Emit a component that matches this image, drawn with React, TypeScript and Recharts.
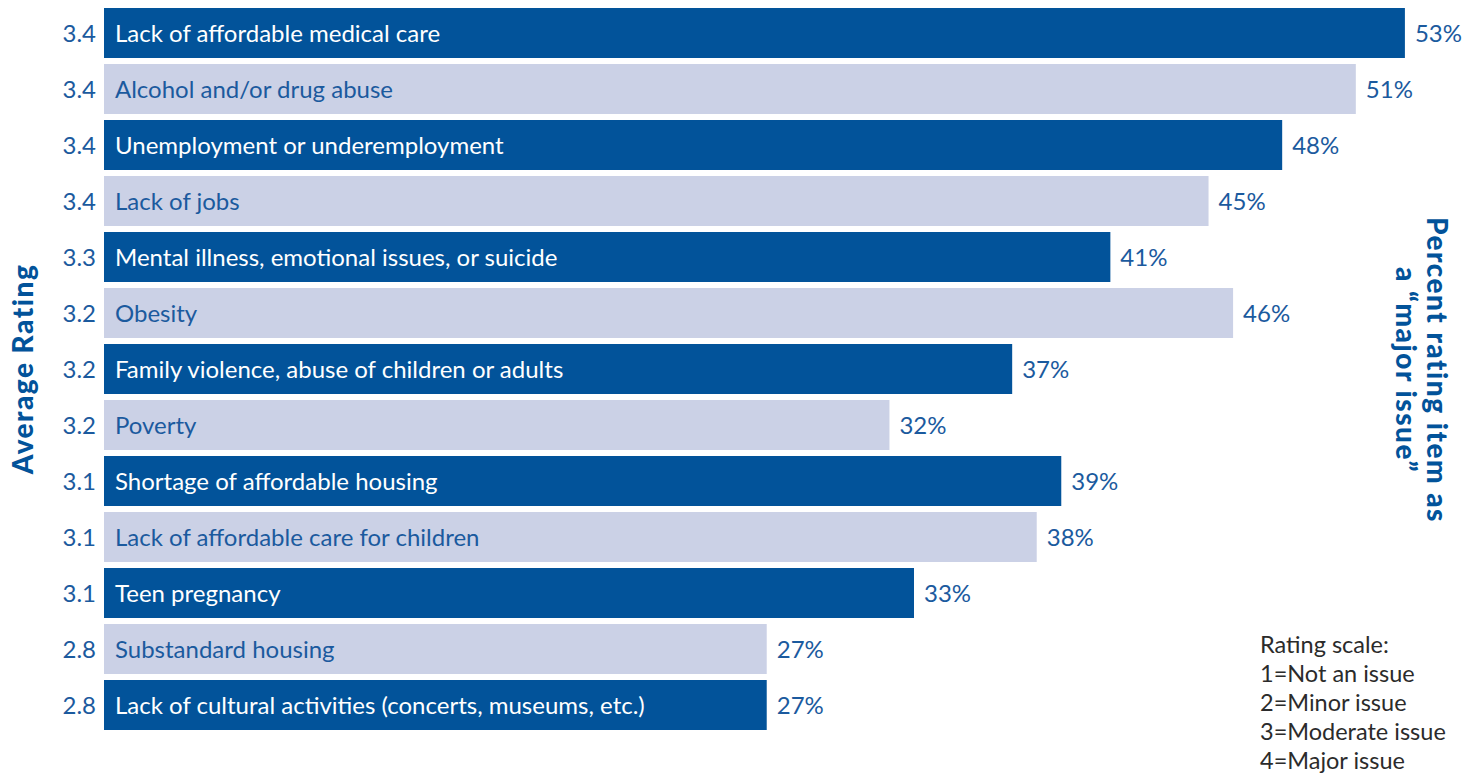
import { BarChart, Bar, XAxis, YAxis, Cell, LabelList } from "recharts";

const issues = [
  "Lack of affordable medical care",
  "Alcohol and/or drug abuse",
  "Unemployment or underemployment",
  "Lack of jobs",
  "Mental illness, emotional issues, or suicide",
  "Obesity",
  "Family violence, abuse of children or adults",
  "Poverty",
  "Shortage of affordable housing",
  "Lack of affordable care for children",
  "Teen pregnancy",
  "Substandard housing",
  "Lack of cultural activities (concerts, museums, etc.)",
];
const avgRatings = ["3.4", "3.4", "3.4", "3.4", "3.3", "3.2", "3.2", "3.2", "3.1", "3.1", "3.1", "2.8", "2.8"];
const majorPct = [53, 51, 48, 45, 41, 46, 37, 32, 39, 38, 33, 27, 27];
const scaleLines = ["Rating scale:", "1=Not an issue", "2=Minor issue", "3=Moderate issue", "4=Major issue"];

const data = issues.map((name, i) => ({ name, rating: avgRatings[i], pct: majorPct[i] }));

const DARK = "#02539A";
const LIGHT = "#CBD1E6";
const TEXT_BLUE = "#1B5A9E";
const FONT = "Lato, 'Noto Sans', sans-serif";

const RatingLabel = (props: any) => {
  const { x, y, height, value } = props;
  return (
    <text x={x - 8} y={y + height / 2} dy="0.38em" textAnchor="end" fill={TEXT_BLUE} fontSize={24} fontFamily={FONT}>
      {value}
    </text>
  );
};

const NameLabel = (props: any) => {
  const { x, y, height, value, index } = props;
  return (
    <text x={x + 11} y={y + height / 2} dy="0.38em" fill={index % 2 === 0 ? "#ffffff" : TEXT_BLUE} fontSize={24} fontFamily={FONT}>
      {value}
    </text>
  );
};

const PctLabel = (props: any) => {
  const { x, y, width, height, value } = props;
  return (
    <text x={x + width + 10} y={y + height / 2} dy="0.38em" fill={TEXT_BLUE} fontSize={24} fontFamily={FONT}>
      {value}%
    </text>
  );
};

export default function App() {
  return (
    <div style={{ position: "absolute", left: 0, top: 0, width: 1481, height: 773, background: "#fff", fontFamily: FONT }}>
      <BarChart
        width={1481}
        height={773}
        data={data}
        layout="vertical"
        margin={{ top: 5, right: 27, bottom: 40, left: 104 }}
        barCategoryGap={3}
      >
        <XAxis type="number" domain={[0, 55]} hide />
        <YAxis type="category" dataKey="name" hide />
        <Bar dataKey="pct" isAnimationActive={false}>
          {data.map((_d, i) => (
            <Cell key={`cell-${i}`} fill={i % 2 === 0 ? DARK : LIGHT} />
          ))}
          <LabelList dataKey="rating" content={RatingLabel} />
          <LabelList dataKey="name" content={NameLabel} />
          <LabelList dataKey="pct" content={PctLabel} />
        </Bar>
      </BarChart>

      <div
        style={{
          position: "absolute", left: 22, top: 369, transform: "translate(-50%, -50%) rotate(-90deg)",
          whiteSpace: "nowrap", color: DARK, fontWeight: 900, fontSize: 28, letterSpacing: 1.5,
        }}
      >
        Average Rating
      </div>
      <div
        style={{
          position: "absolute", left: 1422, top: 370, transform: "translate(-50%, -50%) rotate(90deg)",
          whiteSpace: "nowrap", color: DARK, fontWeight: 900, fontSize: 28, letterSpacing: 1.5,
          lineHeight: "31px", textAlign: "center",
        }}
      >
        Percent rating item as
        <br />a “major issue”
      </div>
      <div style={{ position: "absolute", left: 1260, top: 630, color: "#2b2b2b", fontSize: 23.5, lineHeight: "29px" }}>
        {scaleLines.map((l) => (
          <div key={l}>{l}</div>
        ))}
      </div>
    </div>
  );
}
